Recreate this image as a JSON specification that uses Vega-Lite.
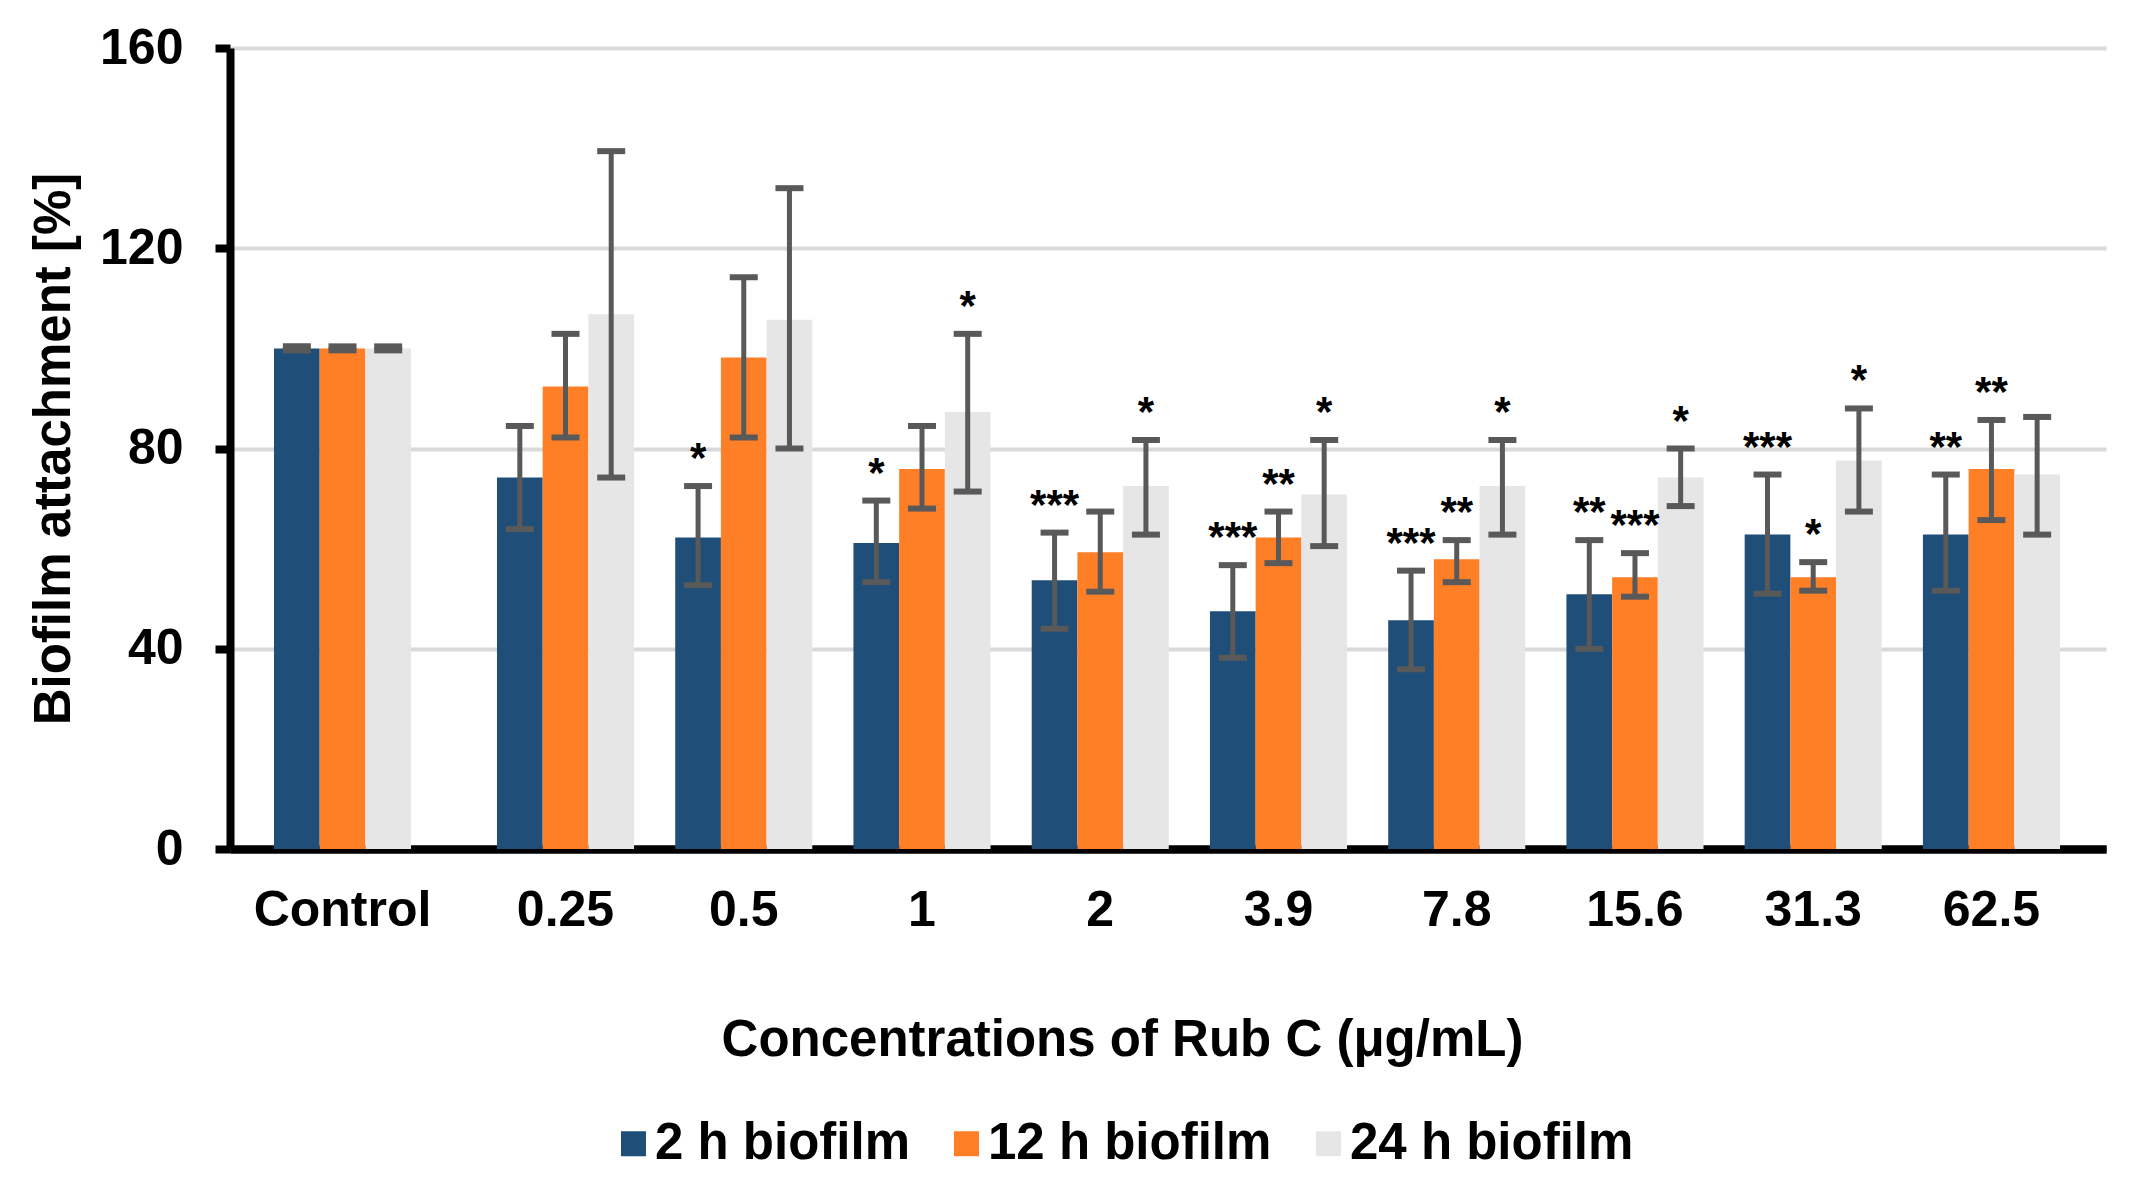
{
  "$schema": "https://vega.github.io/schema/vega-lite/v6.json",
  "width": 1876,
  "height": 801,
  "autosize": {"type": "none"},
  "padding": {"left": 230, "top": 48, "right": 28, "bottom": 343},
  "background": "white",
  "config": {
    "font": "Liberation Sans",
    "view": {"stroke": null},
    "axis": {
      "labelFont": "Liberation Sans",
      "titleFont": "Liberation Sans",
      "labelFontWeight": "bold",
      "titleFontWeight": "bold",
      "labelColor": "black",
      "titleColor": "black",
      "labelFontSize": 50,
      "titleFontSize": 51
    },
    "axisX": {"domainColor": "black", "domainWidth": 8, "ticks": false, "labelPadding": 36, "grid": false, "labelAngle": 0},
    "axisY": {"domainColor": "black", "domainWidth": 8, "tickColor": "black", "tickWidth": 8, "tickSize": 15, "labelPadding": 32, "gridColor": "#D9D9D9", "gridWidth": 4, "titlePadding": 19}
  },
  "data": {
    "values": [
      {"conc": "Control", "series": "2 h biofilm", "value": 100, "lower": 99.6, "upper": 100.4, "sig": ""},
      {"conc": "Control", "series": "12 h biofilm", "value": 100, "lower": 99.6, "upper": 100.4, "sig": ""},
      {"conc": "Control", "series": "24 h biofilm", "value": 100, "lower": 99.6, "upper": 100.4, "sig": ""},
      {"conc": "0.25", "series": "2 h biofilm", "value": 74.2, "lower": 63.9, "upper": 84.5, "sig": ""},
      {"conc": "0.25", "series": "12 h biofilm", "value": 92.4, "lower": 82.2, "upper": 102.9, "sig": ""},
      {"conc": "0.25", "series": "24 h biofilm", "value": 106.8, "lower": 74.2, "upper": 139.4, "sig": ""},
      {"conc": "0.5", "series": "2 h biofilm", "value": 62.2, "lower": 52.7, "upper": 72.5, "sig": "*"},
      {"conc": "0.5", "series": "12 h biofilm", "value": 98.2, "lower": 82.2, "upper": 114.2, "sig": ""},
      {"conc": "0.5", "series": "24 h biofilm", "value": 105.7, "lower": 80, "upper": 132, "sig": ""},
      {"conc": "1", "series": "2 h biofilm", "value": 61.1, "lower": 53.3, "upper": 69.6, "sig": "*"},
      {"conc": "1", "series": "12 h biofilm", "value": 75.9, "lower": 68, "upper": 84.5, "sig": ""},
      {"conc": "1", "series": "24 h biofilm", "value": 87.3, "lower": 71.4, "upper": 102.9, "sig": "*"},
      {"conc": "2", "series": "2 h biofilm", "value": 53.7, "lower": 44, "upper": 63.2, "sig": "***"},
      {"conc": "2", "series": "12 h biofilm", "value": 59.3, "lower": 51.4, "upper": 67.4, "sig": ""},
      {"conc": "2", "series": "24 h biofilm", "value": 72.5, "lower": 62.8, "upper": 81.7, "sig": "*"},
      {"conc": "3.9", "series": "2 h biofilm", "value": 47.5, "lower": 38.2, "upper": 56.7, "sig": "***"},
      {"conc": "3.9", "series": "12 h biofilm", "value": 62.2, "lower": 57.1, "upper": 67.4, "sig": "**"},
      {"conc": "3.9", "series": "24 h biofilm", "value": 70.8, "lower": 60.5, "upper": 81.7, "sig": "*"},
      {"conc": "7.8", "series": "2 h biofilm", "value": 45.7, "lower": 35.9, "upper": 55.6, "sig": "***"},
      {"conc": "7.8", "series": "12 h biofilm", "value": 57.9, "lower": 53.3, "upper": 61.7, "sig": "**"},
      {"conc": "7.8", "series": "24 h biofilm", "value": 72.5, "lower": 62.8, "upper": 81.7, "sig": "*"},
      {"conc": "15.6", "series": "2 h biofilm", "value": 50.9, "lower": 40, "upper": 61.7, "sig": "**"},
      {"conc": "15.6", "series": "12 h biofilm", "value": 54.3, "lower": 50.4, "upper": 59.1, "sig": "***"},
      {"conc": "15.6", "series": "24 h biofilm", "value": 74.2, "lower": 68.5, "upper": 80, "sig": "*"},
      {"conc": "31.3", "series": "2 h biofilm", "value": 62.8, "lower": 51, "upper": 74.8, "sig": "***"},
      {"conc": "31.3", "series": "12 h biofilm", "value": 54.3, "lower": 51.6, "upper": 57.3, "sig": "*"},
      {"conc": "31.3", "series": "24 h biofilm", "value": 77.6, "lower": 67.4, "upper": 88, "sig": "*"},
      {"conc": "62.5", "series": "2 h biofilm", "value": 62.8, "lower": 51.6, "upper": 74.8, "sig": "**"},
      {"conc": "62.5", "series": "12 h biofilm", "value": 75.9, "lower": 65.7, "upper": 85.7, "sig": "**"},
      {"conc": "62.5", "series": "24 h biofilm", "value": 74.8, "lower": 62.8, "upper": 86.3, "sig": ""}
    ]
  },
  "resolve": {"scale": {"x": "independent", "xOffset": "independent"}, "axis": {"x": "independent"}},
  "layer": [
    {
      "transform": [{"filter": "datum.conc === 'Control'"}],
      "encoding": {
        "x": {"field": "conc", "type": "nominal", "scale": {"domain": ["Control"], "paddingInner": 0.8424, "paddingOuter": 1, "align": 0.0253}, "axis": {"orient": "bottom", "title": null}},
        "xOffset": {"field": "series", "type": "nominal", "scale": {"domain": ["2 h biofilm", "12 h biofilm", "24 h biofilm"], "paddingInner": 0, "paddingOuter": 0}}
      },
      "layer": [
        {
          "mark": {"type": "bar"},
          "encoding": {
            "y": {"field": "value", "type": "quantitative", "scale": {"domain": [0, 160], "nice": false}, "axis": {"values": [0, 40, 80, 120, 160], "title": "Biofilm attachment [%]"}},
            "color": {"field": "series", "type": "nominal", "scale": {"domain": ["2 h biofilm", "12 h biofilm", "24 h biofilm"], "range": ["#1F4E79", "#FF7F27", "#E6E6E6"]},
              "legend": {"title": null, "orient": "none", "legendX": 378, "legendY": 1070, "direction": "horizontal", "symbolType": "square", "symbolSize": 625, "symbolStrokeWidth": 0, "labelFontSize": 51, "labelFontWeight": "bold", "labelFont": "Liberation Sans", "labelColor": "black", "labelOffset": -4, "labelLimit": 0, "columnPadding": 31}}
          }
        },
        {
          "mark": {"type": "rule", "color": "#595959", "strokeWidth": 5},
          "encoding": {
            "y": {"field": "lower", "type": "quantitative", "scale": {"domain": [0, 160], "nice": false}, "axis": {"values": [0, 40, 80, 120, 160], "title": "Biofilm attachment [%]"}},
            "y2": {"field": "upper"}
          }
        },
        {
          "mark": {"type": "tick", "color": "#595959", "size": 28, "thickness": 6, "opacity": 1},
          "encoding": {"y": {"field": "upper", "type": "quantitative", "scale": {"domain": [0, 160], "nice": false}, "axis": {"values": [0, 40, 80, 120, 160], "title": "Biofilm attachment [%]"}}}
        },
        {
          "mark": {"type": "tick", "color": "#595959", "size": 28, "thickness": 6, "opacity": 1},
          "encoding": {"y": {"field": "lower", "type": "quantitative", "scale": {"domain": [0, 160], "nice": false}, "axis": {"values": [0, 40, 80, 120, 160], "title": "Biofilm attachment [%]"}}}
        }
      ]
    },
    {
      "transform": [{"filter": "datum.conc !== 'Control'"}],
      "encoding": {
        "x": {"field": "conc", "type": "nominal", "scale": {"domain": ["0.25", "0.5", "1", "2", "3.9", "7.8", "15.6", "31.3", "62.5"], "paddingInner": 0.231, "paddingOuter": 0.878, "align": 0.853}, "axis": {"orient": "bottom", "title": "Concentrations of Rub C (μg/mL)", "titleX": 892, "titlePadding": 80}},
        "xOffset": {"field": "series", "type": "nominal", "scale": {"domain": ["2 h biofilm", "12 h biofilm", "24 h biofilm"], "paddingInner": 0, "paddingOuter": 0}}
      },
      "layer": [
        {
          "mark": {"type": "bar"},
          "encoding": {
            "y": {"field": "value", "type": "quantitative", "scale": {"domain": [0, 160], "nice": false}, "axis": {"values": [0, 40, 80, 120, 160], "title": "Biofilm attachment [%]"}},
            "color": {"field": "series", "type": "nominal", "scale": {"domain": ["2 h biofilm", "12 h biofilm", "24 h biofilm"], "range": ["#1F4E79", "#FF7F27", "#E6E6E6"]},
              "legend": {"title": null, "orient": "none", "legendX": 378, "legendY": 1070, "direction": "horizontal", "symbolType": "square", "symbolSize": 625, "symbolStrokeWidth": 0, "labelFontSize": 51, "labelFontWeight": "bold", "labelFont": "Liberation Sans", "labelColor": "black", "labelOffset": -4, "labelLimit": 0, "columnPadding": 31}}
          }
        },
        {
          "mark": {"type": "rule", "color": "#595959", "strokeWidth": 5},
          "encoding": {
            "y": {"field": "lower", "type": "quantitative", "scale": {"domain": [0, 160], "nice": false}, "axis": {"values": [0, 40, 80, 120, 160], "title": "Biofilm attachment [%]"}},
            "y2": {"field": "upper"}
          }
        },
        {
          "mark": {"type": "tick", "color": "#595959", "size": 28, "thickness": 6, "opacity": 1},
          "encoding": {"y": {"field": "upper", "type": "quantitative", "scale": {"domain": [0, 160], "nice": false}, "axis": {"values": [0, 40, 80, 120, 160], "title": "Biofilm attachment [%]"}}}
        },
        {
          "mark": {"type": "tick", "color": "#595959", "size": 28, "thickness": 6, "opacity": 1},
          "encoding": {"y": {"field": "lower", "type": "quantitative", "scale": {"domain": [0, 160], "nice": false}, "axis": {"values": [0, 40, 80, 120, 160], "title": "Biofilm attachment [%]"}}}
        },
        {
          "transform": [{"filter": "datum.sig !== ''"}],
          "mark": {"type": "text", "fontSize": 42, "fontWeight": "bold", "font": "Liberation Sans", "baseline": "alphabetic", "align": "center", "dy": -14, "color": "black"},
          "encoding": {
            "y": {"field": "upper", "type": "quantitative", "scale": {"domain": [0, 160], "nice": false}, "axis": {"values": [0, 40, 80, 120, 160], "title": "Biofilm attachment [%]"}},
            "text": {"field": "sig", "type": "nominal"}
          }
        }
      ]
    }
  ]
}
